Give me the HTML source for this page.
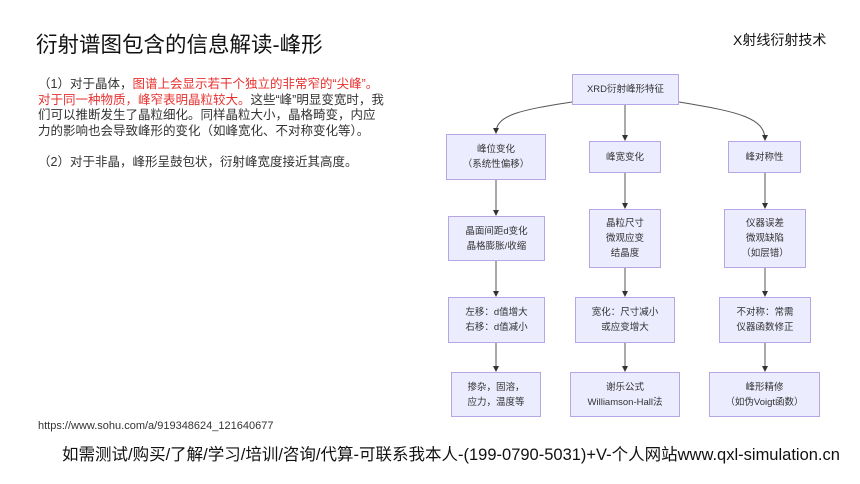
<!DOCTYPE html>
<html><head><meta charset="utf-8"><style>
body{margin:0;width:860px;height:484px;background:#fff;position:relative;overflow:hidden;font-family:"Liberation Sans","Noto Sans CJK SC",sans-serif;color:#222}
.t{position:absolute;white-space:nowrap}
.b{position:absolute;background:#ececff;border:1px solid #b7a6e6;box-sizing:border-box;display:flex;align-items:center;justify-content:center;text-align:center;font-size:9.5px;line-height:15px;color:#333}
.r{color:#e8312f}
</style></head><body>
<div class="t" style="left:36px;top:28px;font-size:21.5px;color:#111">衍射谱图包含的信息解读-峰形</div>
<div class="t" style="left:733px;top:30px;font-size:14px;color:#111">X射线衍射技术</div>
<div class="t" style="left:38px;top:77px;font-size:12.5px;line-height:15.5px;color:#333">
（1）对于晶体，<span class="r">图谱上会显示若干个独立的非常窄的“尖峰”。</span><br>
<span class="r">对于同一种物质，峰窄表明晶粒较大。</span>这些“峰”明显变宽时，我<br>
们可以推断发生了晶粒细化。同样晶粒大小，晶格畸变，内应<br>
力的影响也会导致峰形的变化（如峰宽化、不对称变化等）。<br><br>
（2）对于非晶，峰形呈鼓包状，衍射峰宽度接近其高度。</div>
<div class="t" style="left:38px;top:420px;font-size:11px;color:#333">https://www.sohu.com/a/919348624_121640677</div>
<div class="t" style="left:62px;top:441px;font-size:16.5px;color:#111">如需测试/购买/了解/学习/培训/咨询/代算-可联系我本人-(199-0790-5031)+V-个人网站www.qxl-simulation.cn</div>
<svg style="position:absolute;left:0;top:0" width="860" height="484">
<defs><marker id="a" markerWidth="6" markerHeight="6" refX="5" refY="3" orient="auto"><path d="M0,0L6,3L0,6z" fill="#333"/></marker></defs>
<g stroke="#555" stroke-width="1" fill="none" marker-end="url(#a)">
<path d="M572,102 C520,110 496,115 496,133"/>
<path d="M625,105 V140"/>
<path d="M679,102 C740,112 765,118 765,140"/>
<path d="M496,180 V215"/><path d="M625,173 V208"/><path d="M765,173 V208"/>
<path d="M496,261 V296"/><path d="M625,268 V296"/><path d="M765,268 V296"/>
<path d="M496,343 V371"/><path d="M625,343 V371"/><path d="M765,343 V371"/>
</g></svg>
<div class="b" style="left:572px;top:74px;width:107px;height:31px">XRD衍射峰形特征</div>
<div class="b" style="left:446px;top:134px;width:100px;height:46px">峰位变化<br>（系统性偏移）</div>
<div class="b" style="left:589px;top:141px;width:72px;height:32px">峰宽变化</div>
<div class="b" style="left:728px;top:141px;width:73px;height:32px">峰对称性</div>
<div class="b" style="left:448px;top:216px;width:97px;height:45px">晶面间距d变化<br>晶格膨胀/收缩</div>
<div class="b" style="left:589px;top:209px;width:72px;height:59px">晶粒尺寸<br>微观应变<br>结晶度</div>
<div class="b" style="left:724px;top:209px;width:82px;height:59px">仪器误差<br>微观缺陷<br>（如层错）</div>
<div class="b" style="left:448px;top:297px;width:97px;height:46px">左移：d值增大<br>右移：d值减小</div>
<div class="b" style="left:575px;top:297px;width:100px;height:46px">宽化：尺寸减小<br>或应变增大</div>
<div class="b" style="left:719px;top:297px;width:92px;height:46px">不对称：常需<br>仪器函数修正</div>
<div class="b" style="left:451px;top:372px;width:90px;height:45px">掺杂，固溶，<br>应力，温度等</div>
<div class="b" style="left:570px;top:372px;width:110px;height:45px">谢乐公式<br>Williamson-Hall法</div>
<div class="b" style="left:709px;top:372px;width:111px;height:45px">峰形精修<br>（如伪Voigt函数）</div>
</body></html>
